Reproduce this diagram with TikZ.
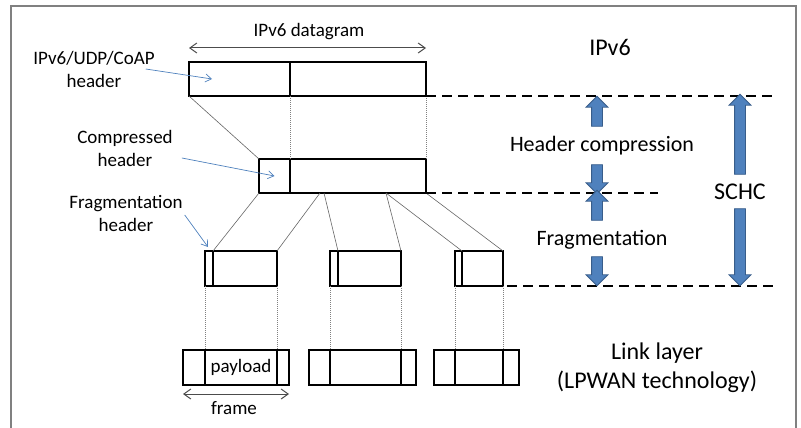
\documentclass[tikz,border=0pt]{standalone}
\usepackage{fontspec}
\setmainfont{Carlito}
\usetikzlibrary{positioning,shapes.arrows,arrows.meta}
\definecolor{calloutblue}{RGB}{79,129,189}
\definecolor{blockfill}{RGB}{79,129,189}
\definecolor{blockline}{RGB}{56,93,138}

\begin{document}
\begin{tikzpicture}[x=1pt,y=-1pt,
    box/.style={draw,line width=2.2pt,inner sep=0pt,outer sep=0pt,minimum height=34pt},
    fragbox/.style={box,minimum height=35pt},
    link/.style={gray!80!black,line width=0.6pt},
    drop/.style={gray,line width=0.7pt,dash pattern=on 1pt off 1pt},
    level/.style={line width=1.2pt,dash pattern=on 10pt off 6pt},
    callout/.style={-{Straight Barb[length=6pt,width=8pt]},calloutblue,line width=0.7pt},
    span/.style={{Straight Barb[length=7pt,width=10pt]}-{Straight Barb[length=7pt,width=10pt]},gray!60!black,line width=1pt},
    blockup/.style={single arrow,draw=blockline,fill=blockfill,line width=0.8pt,inner sep=5pt,
        single arrow head extend=5.5pt,shape border rotate=90},
    blockdown/.style={blockup,shape border rotate=270},
    lbl/.style={font=\fontsize{19}{23}\selectfont,align=center,inner sep=0pt},
    biglbl/.style={font=\fontsize{22}{27}\selectfont,align=center,inner sep=0pt},
    hugelbl/.style={font=\fontsize{24}{29}\selectfont,align=center,inner sep=0pt}]

  \useasboundingbox (0,0) rectangle (801,428);
  \draw[gray,line width=1.5pt] (11,428) -- (11,6) -- (796,6) -- (796,428);

  % IPv6 datagram
  \node[box,minimum width=101pt,anchor=north west] (hdr0) at (189,62) {};
  \node[box,minimum width=136pt,right=0pt of hdr0] (pay0) {};
  \draw[span] ([yshift=14pt]hdr0.north west) -- ([yshift=14pt]pay0.north east);
  \node[lbl] (dgram) at (309,32) {IPv6 datagram};

  % compressed datagram
  \node[box,minimum width=31pt,anchor=north west] (hdr1) at (259,159) {};
  \node[box,minimum width=136pt,right=0pt of hdr1] (pay1) {};
  \draw[link] (hdr0.south west) -- (hdr1.north west);
  \draw[drop] (hdr0.south east) -- (hdr1.north east);
  \draw[drop] (pay0.south east) -- (pay1.north east);

  % fragments
  \node[fragbox,minimum width=8pt,anchor=north west] (f1h) at (205,251) {};
  \node[fragbox,minimum width=64pt,right=0pt of f1h] (f1p) {};
  \node[fragbox,minimum width=8pt,anchor=north west] (f2h) at (330,251) {};
  \node[fragbox,minimum width=63pt,right=0pt of f2h] (f2p) {};
  \node[fragbox,minimum width=7pt,anchor=north west] (f3h) at (455,251) {};
  \node[fragbox,minimum width=41pt,right=0pt of f3h] (f3p) {};

  \coordinate (cut1) at (320,193);
  \coordinate (cut2) at (324,193);
  \coordinate (cut3) at (386,193);
  \draw[link] (hdr1.south west) -- (f1p.north west);
  \draw[link] (cut1) -- (f1p.north east);
  \draw[link] (cut2) -- (f2p.north west);
  \draw[link] (cut3) -- (f2p.north east);
  \draw[link] (cut3) -- (f3p.north west);
  \draw[link] (pay1.south east) -- (f3p.north east);

  % link layer frames
  \node[fragbox,minimum width=22pt,anchor=north west] (fr1a) at (183,350) {};
  \node[fragbox,minimum width=72pt,right=0pt of fr1a,lbl] (fr1b) {payload};
  \node[fragbox,minimum width=12pt,right=0pt of fr1b] (fr1c) {};
  \node[fragbox,minimum width=21pt,anchor=north west] (fr2a) at (309,350) {};
  \node[fragbox,minimum width=71pt,right=0pt of fr2a] (fr2b) {};
  \node[fragbox,minimum width=15pt,right=0pt of fr2b] (fr2c) {};
  \node[fragbox,minimum width=21pt,anchor=north west] (fr3a) at (434,350) {};
  \node[fragbox,minimum width=48pt,right=0pt of fr3a] (fr3b) {};
  \node[fragbox,minimum width=16pt,right=0pt of fr3b] (fr3c) {};

  \foreach \i in {1,2,3} {
    \draw[drop] (f\i h.south west) -- (fr\i b.north west);
    \draw[drop] (f\i p.south east) -- (fr\i b.north east);
  }

  \draw[span] ([yshift=-9pt]fr1a.south west) -- ([yshift=-9pt]fr1c.south east);
  \node[lbl] (frm) at (234,408) {frame};

  % callouts
  \node[lbl] (lbl0) at (94,69) {IPv6/UDP/CoAP\\header};
  \node[lbl] (lbl1) at (125,148) {Compressed\\header};
  \node[lbl] (lbl2) at (126,213) {Fragmentation\\header};
  \draw[callout] ([xshift=-9pt]lbl0.east) -- ([xshift=23pt]hdr0.west);
  \draw[callout] ([xshift=9pt,yshift=-10pt]lbl1.east) -- (hdr1.center);
  \draw[callout] ([xshift=2pt,yshift=-2pt]lbl2.east) -- ([xshift=3pt,yshift=4pt]f1h.north west);

  % layers
  \coordinate (lv0) at (778,96);
  \coordinate (lv1) at (658,193);
  \coordinate (lv2) at (773,286);
  \draw[level] (pay0.south east) -- (lv0);
  \draw[level] (pay1.south east) -- (lv1);
  \draw[level,shorten <=4pt] (f3p.south east) -- (lv2);

  \node[hugelbl] (ipv6) at (610,47) {IPv6};
  \node[biglbl] (hc) at (602,146) {Header compression};
  \node[biglbl] (frag) at (602,240) {Fragmentation};
  \node[hugelbl] (schc) at (740,192) {SCHC};
  \node[hugelbl] (lpwan) at (657,368) {Link layer\\(LPWAN technology)};

  \node[blockup,minimum height=30pt] (hcup) at (597,114) {};
  \node[blockdown,minimum height=29pt] (hcdn) at (597,176.5) {};
  \node[blockup,minimum height=30pt] (frup) at (597,208) {};
  \node[blockdown,minimum height=29pt] (frdn) at (597,268.5) {};
  \node[blockup,minimum height=80pt] (schcup) at (740,137) {};
  \node[blockdown,minimum height=77pt] (schcdn) at (740,244.5) {};
\end{tikzpicture}
\end{document}
